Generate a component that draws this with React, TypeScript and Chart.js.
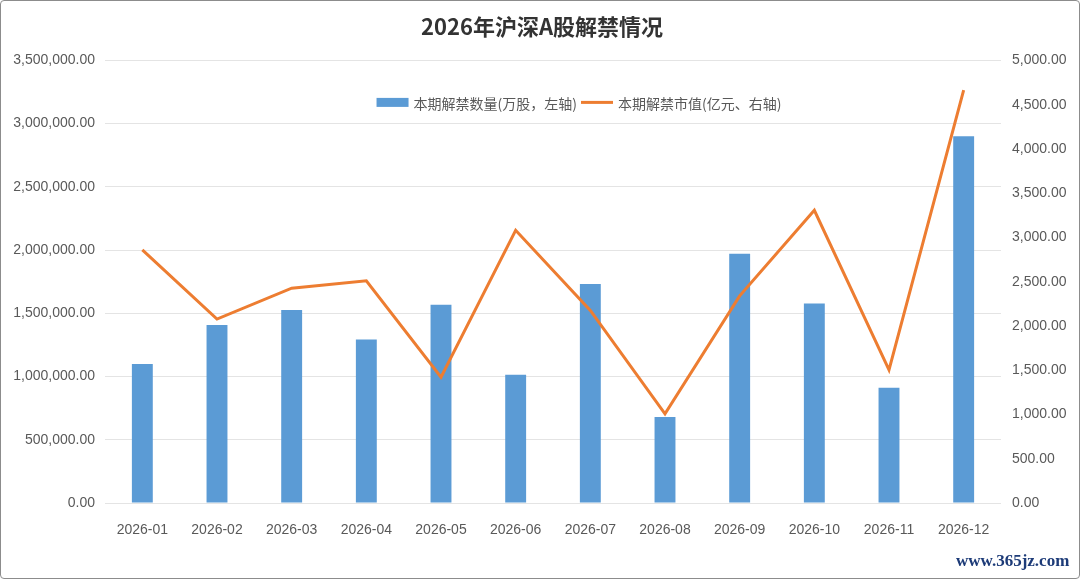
import { Chart, registerables, type Plugin } from "chart.js";
import { useEffect, useRef } from "react";

Chart.register(...registerables);

const months = [
  "2026-01", "2026-02", "2026-03", "2026-04", "2026-05", "2026-06",
  "2026-07", "2026-08", "2026-09", "2026-10", "2026-11", "2026-12"
];
// 本期解禁数量 (万股)
const unlockShares = [
  1100000, 1407000, 1526000, 1293000, 1568000, 1014000,
  1732000, 681000, 1972000, 1578000, 911000, 2901000
];
// 本期解禁市值 (亿元)
const unlockValue = [2859, 2078, 2427, 2511, 1422, 3081, 2176, 1007, 2340, 3307, 1505, 4664];

const sharesLabel = "本期解禁数量(万股，左轴)";
const valueLabel = "本期解禁市值(亿元、右轴)";
const chartTitle = "2026年沪深A股解禁情况";

const BLUE = "#5b9bd5";
const ORANGE = "#ed7d31";
const TEXT = "#595959";
const TICK_FONT = { family: "'Liberation Sans', Arial, sans-serif", size: 14 };

const fmt = (v: number | string) =>
  Number(v).toLocaleString("en-US", { minimumFractionDigits: 2, maximumFractionDigits: 2 });

// legend drawn inside the plot area, under the top gridline
const insideLegend: Plugin<"bar"> = {
  id: "insideLegend",
  afterDraw(chart) {
    const { ctx, chartArea, data } = chart;
    ctx.save();
    ctx.font = "14px 'Noto Sans CJK SC', sans-serif";
    const symW = 32;
    const gap = 5;
    const items = data.datasets.map((ds: any) => ({
      text: ds.label as string,
      color: (ds.type === "line" ? ds.borderColor : ds.backgroundColor) as string,
      isLine: ds.type === "line"
    }));
    const widths = items.map((it) => symW + gap + ctx.measureText(it.text).width);
    const total = widths.reduce((a, b) => a + b, 0) + 4 * (items.length - 1);
    let x = (chartArea.left + chartArea.right) / 2 + 26 - total / 2;
    const cy = chartArea.top + 42;
    ctx.textBaseline = "middle";
    items.forEach((it, i) => {
      if (it.isLine) {
        ctx.strokeStyle = it.color;
        ctx.lineWidth = 3;
        ctx.beginPath();
        ctx.moveTo(x, cy);
        ctx.lineTo(x + symW, cy);
        ctx.stroke();
      } else {
        ctx.fillStyle = it.color;
        ctx.fillRect(x, cy - 4.5, symW, 9);
      }
      ctx.fillStyle = TEXT;
      ctx.fillText(it.text, x + symW + gap, cy + 1);
      x += widths[i] + 4;
    });
    ctx.restore();
  }
};

export default function App() {
  const canvasRef = useRef<HTMLCanvasElement | null>(null);
  const chartRef = useRef<Chart | null>(null);

  useEffect(() => {
    document.body.style.margin = "0";
    if (!canvasRef.current) {
      return;
    }
    chartRef.current?.destroy();
    chartRef.current = new Chart(canvasRef.current, {
      type: "bar",
      data: {
        labels: months,
        datasets: [
          {
            type: "bar",
            label: sharesLabel,
            data: unlockShares,
            backgroundColor: BLUE,
            borderWidth: 0,
            yAxisID: "y",
            order: 2,
            barPercentage: 0.28,
            categoryPercentage: 1
          },
          {
            type: "line",
            label: valueLabel,
            data: unlockValue,
            borderColor: ORANGE,
            backgroundColor: ORANGE,
            borderWidth: 3,
            pointRadius: 0,
            tension: 0,
            yAxisID: "y1",
            order: 1
          } as any
        ]
      },
      options: {
        responsive: true,
        maintainAspectRatio: false,
        animation: false,
        layout: {
          padding: { left: 12, right: 8, top: 0, bottom: 35 }
        },
        plugins: {
          legend: { display: false },
          tooltip: { enabled: false },
          title: {
            display: true,
            text: chartTitle,
            color: "#333333",
            font: { family: "'Noto Sans CJK SC', sans-serif", size: 22, weight: "bold" },
            padding: { top: 12, bottom: 21 }
          }
        },
        scales: {
          x: {
            grid: { display: false },
            border: { display: false },
            ticks: { color: TEXT, padding: 11, font: TICK_FONT },
            afterFit: (scale) => {
              scale.height = 40;
            }
          },
          y: {
            position: "left",
            min: 0,
            max: 3500000,
            grid: { color: "#e4e4e4", lineWidth: 1, drawTicks: false },
            border: { display: false },
            ticks: {
              stepSize: 500000,
              color: TEXT,
              padding: 10,
              font: TICK_FONT,
              callback: (v) => fmt(v)
            },
            afterFit: (scale) => {
              scale.width = 92;
            }
          },
          y1: {
            position: "right",
            min: 0,
            max: 5000,
            grid: { display: false, drawTicks: false },
            border: { display: false },
            ticks: {
              stepSize: 500,
              color: TEXT,
              padding: 11,
              font: TICK_FONT,
              callback: (v) => fmt(v)
            },
            afterFit: (scale) => {
              scale.width = 70;
            }
          }
        }
      },
      plugins: [insideLegend as any]
    });

    return () => chartRef.current?.destroy();
  }, []);

  return (
    <div
      style={{
        position: "relative",
        width: 1080,
        height: 579,
        boxSizing: "border-box",
        border: "1px solid #8c8c8c",
        borderRadius: 4,
        background: "#ffffff",
        overflow: "hidden"
      }}
    >
      <canvas ref={canvasRef} />
      <div
        style={{
          position: "absolute",
          left: 955,
          top: 551,
          color: "#1d3b78",
          fontFamily: "'Liberation Serif', 'DejaVu Serif', serif",
          fontWeight: "bold",
          fontSize: 17,
          lineHeight: "17px",
          whiteSpace: "nowrap"
        }}
      >
        www.365jz.com
      </div>
    </div>
  );
}
